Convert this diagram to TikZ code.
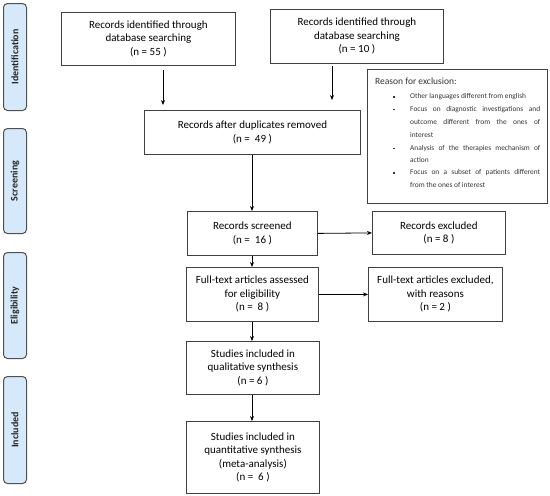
\documentclass[tikz,border=0pt]{standalone}
\usepackage{fontspec}
\setmainfont{Carlito}
\usetikzlibrary{arrows.meta,calc}
\definecolor{phasefill}{HTML}{D6E9FA}
\definecolor{phaseline}{HTML}{505050}
\tikzset{
  box/.style={draw=black!75, line width=0.8pt, fill=white, align=center, font=\fontsize{11}{13.5}\selectfont, inner sep=2pt, anchor=north west},
  phase/.style={draw=phaseline, line width=1pt, fill=phasefill, rounded corners=4pt, anchor=north west, minimum width=23pt},
  phasetext/.style={rotate=90, font=\bfseries\fontsize{10}{12}\selectfont, text=black!85},
  rline/.style={anchor=west, inner sep=0pt, font=\fontsize{7.4}{8}\selectfont, text=black!80},
  arr/.style={-{Stealth[length=5pt,width=4pt]}, line width=0.8pt, black}
}
\newcommand{\jline}[1]{\makebox[130pt][s]{#1}}
\begin{document}
\begin{tikzpicture}[x=1pt,y=1pt]
\useasboundingbox (0,0) rectangle (550,-496);
% phase boxes
\node[phase, minimum height=107pt] (p1) at (3,-3) {};
\node[phasetext] (p1t) at (p1.center) {Identification};
\node[phase, minimum height=105pt] (p2) at (3,-128) {};
\node[phasetext] (p2t) at (p2.center) {Screening};
\node[phase, minimum height=106pt] (p3) at (3,-252) {};
\node[phasetext] (p3t) at (p3.center) {Eligibility};
\node[phase, minimum height=107pt] (p4) at (3,-376) {};
\node[phasetext] (p4t) at (p4.center) {Included};
% boxes
\node[box, minimum width=174pt, minimum height=53pt] (b1) at (61,-12) {Records identified through\\database searching\\(n = 55 )};
\node[box, minimum width=173pt, minimum height=54pt] (b2) at (270,-9) {Records identified through\\database searching\\(n = 10 )};
\node[box, minimum width=216pt, minimum height=44pt] (b3) at (144,-110) {Records after duplicates removed\\(n =\ \ 49 )};
\node[box, minimum width=130pt, minimum height=44pt] (b4) at (187,-211) {Records screened\\(n =\ \ 16 )};
\node[box, minimum width=133pt, minimum height=43pt] (e1) at (372,-211) {Records excluded\\(n = 8 )};
\node[box, minimum width=132pt, minimum height=54pt] (b5) at (186,-267) {Full-text articles assessed\\for eligibility\\(n =\ \ 8 )};
\node[box, minimum width=134pt, minimum height=54pt] (e2) at (368,-267) {Full-text articles excluded,\\with reasons\\(n = 2 )};
\node[box, minimum width=133pt, minimum height=53pt] (b6) at (186,-341) {Studies included in\\qualitative synthesis\\(n = 6 )};
\node[box, minimum width=133pt, minimum height=72pt] (b7) at (186,-421) {Studies included in\\quantitative synthesis\\(meta-analysis)\\(n =\ \ 6 )};
% reason box
\node[draw=black!75, line width=0.8pt, anchor=north west, minimum width=180pt, minimum height=134pt, inner sep=0pt] (r) at (367,-69) {};
\node[anchor=west, inner sep=0pt, font=\fontsize{9.5}{11}\selectfont, text=black!80] (rt) at (375,-81.7) {Reason for exclusion:};
\node[rline] (l1) at (410,-96.7) {Other languages different from english};
\node[rline] (l2) at (410,-109.3) {\jline{Focus on diagnostic investigations and}};
\node[rline] (l3) at (410,-122.3) {\jline{outcome different from the ones of}};
\node[rline] (l4) at (410,-135) {interest};
\node[rline] (l5) at (410,-148.3) {\jline{Analysis of the therapies mechanism of}};
\node[rline] (l6) at (410,-160.3) {action};
\node[rline] (l7) at (410,-172.7) {\jline{Focus on a subset of patients different}};
\node[rline] (l8) at (410,-185.3) {from the ones of interest};
\foreach \y in {-96.7,-109.3,-148.3,-172.7} \fill[black!80] (393.2,\y+0.8) rectangle ++(1.6,-1.6);
% arrows
\draw[arr] (163,-70) coordinate (a1s) -- (163,-105) coordinate (a1e);
\draw[arr] (332,-66) coordinate (a2s) -- (332,-100) coordinate (a2e);
\draw[arr] (b3.south -| 252,0) -- (b4.north -| 252,0);
\draw[arr] (b4.east) -- (e1.west);
\draw[arr] (b4.south -| 252,0) -- (b5.north -| 252,0);
\draw[arr] (b5.east) -- (e2.west);
\draw[arr] (b5.south -| 252,0) -- (b6.north -| 252,0);
\draw[arr] (b6.south -| 252,0) -- (b7.north -| 252,0);
\end{tikzpicture}
\end{document}
